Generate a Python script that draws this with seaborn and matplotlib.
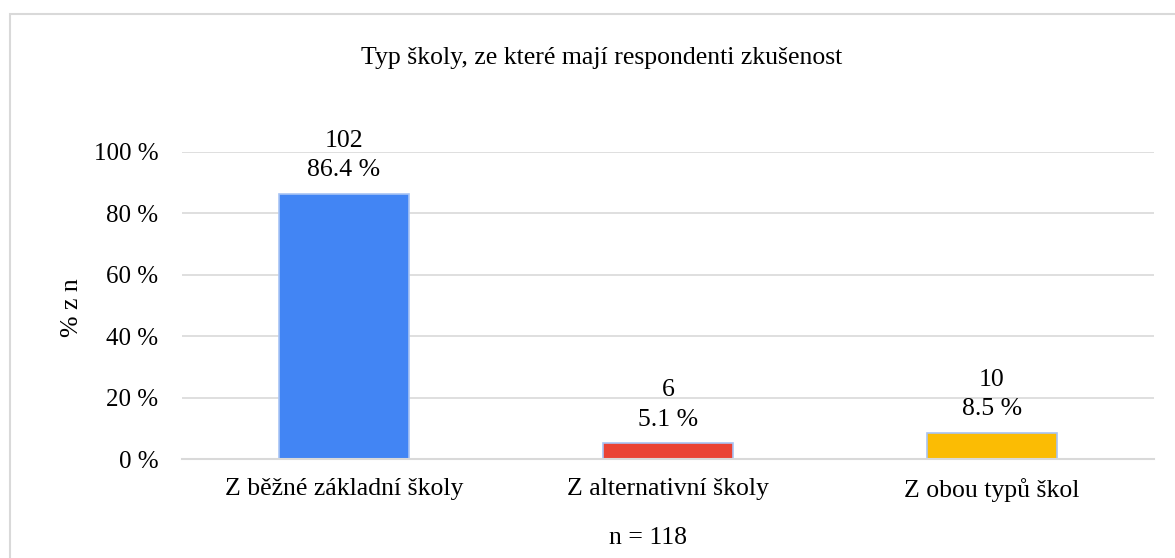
import matplotlib
matplotlib.use("Agg")
import matplotlib.pyplot as plt
import seaborn as sns
import pandas as pd
from matplotlib.patches import Rectangle

categories = ["Z běžné základní školy", "Z alternativní školy", "Z obou typů škol"]
counts = [102, 6, 10]
percents = [86.4, 5.1, 8.5]
colors = ["#4285F4", "#EA4335", "#FBBC04"]
yticks = [0, 20, 40, 60, 80, 100]
ytick_labels = ["0 %", "20 %", "40 %", "60 %", "80 %", "100 %"]
title = "Typ školy, ze které mají respondenti zkušenost"
xlabel = "n = 118"
ylabel = "% z n"

sns.set_theme(style="white")
plt.rcParams["font.family"] = ["Liberation Serif", "DejaVu Serif"]

df = pd.DataFrame({"cat": categories, "pct": percents})

fig = plt.figure(figsize=(11.75, 5.58), dpi=100)
ax = fig.add_axes([182/1175, 1-459/558, (1154-182)/1175, (459-152)/558])

sns.barplot(data=df, x="cat", y="pct", hue="cat", palette=colors, legend=False,
            width=0.4, edgecolor="#a8c4f5", linewidth=1.2, ax=ax, saturation=1)

ax.set_ylim(0, 100)
ax.set_xlim(-0.5, 2.5)
ax.set_yticks(yticks)
ax.set_yticklabels(ytick_labels, fontsize=18, color="#000000")
ax.tick_params(axis="y", length=0, pad=17)
ax.tick_params(axis="x", length=0, pad=14, labelsize=18.5, labelcolor="#000000")
ax.set_xlabel("")
ax.set_ylabel("")
ax.grid(axis="y", color="#d9d9d9", linewidth=1.2)
ax.set_axisbelow(True)
for s in ["top", "right", "left"]:
    ax.spines[s].set_visible(False)
ax.spines["bottom"].set_color("#d9d9d9")
ax.spines["bottom"].set_linewidth(1.5)

for i, (n, p) in enumerate(zip(counts, percents)):
    ax.annotate(f"{n}\n{p:.1f} %", xy=(i, p), xytext=(0, 9), textcoords="offset points",
                ha="center", va="bottom", fontsize=18.5, linespacing=1.45, color="#000000",
                annotation_clip=False)

fig.text(602/1175, 1-58/558, title, ha="center", va="center", fontsize=18.5, color="#000000")
fig.text(648/1175, 1-538/558, xlabel, ha="center", va="center", fontsize=18.5, color="#000000")
fig.text(72/1175, 1-308/558, ylabel, ha="center", va="center", fontsize=18.5, rotation=90, color="#000000")

fig.patches.append(Rectangle((10/1175, -0.1), 1.2, 1.1 - 14/558, transform=fig.transFigure,
                             fill=False, edgecolor="#d9d9d9", linewidth=1.5))

fig.savefig("out.png", dpi=100, facecolor="white")
